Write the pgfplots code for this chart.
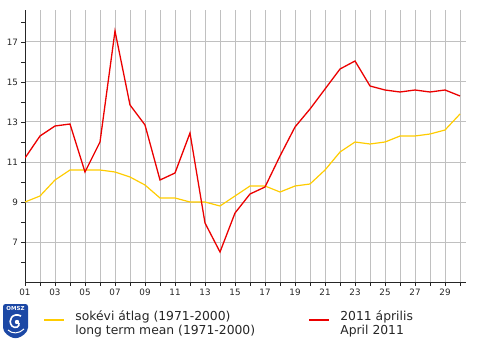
\documentclass[border=0pt]{standalone}
\usepackage{fontspec}
\setmainfont{DejaVu Sans}
\usepackage{pgfplots}
\pgfplotsset{compat=1.18}
\definecolor{ylw}{RGB}{255,204,0}
\definecolor{rd}{RGB}{235,0,0}
\definecolor{grd}{RGB}{192,192,192}
\definecolor{omszblue}{RGB}{28,72,165}
\begin{document}
\begin{tikzpicture}[x=1bp,y=1bp]
\useasboundingbox (0,0) rectangle (490,342);
\begin{axis}[
  at={(25bp,60bp)}, anchor=south west,
  scale only axis, width=441bp, height=272bp,
  xmin=1, xmax=30.4, ymin=5, ymax=18.6,
  axis x line*=bottom, axis y line*=left,
  axis line style={-, black!85, line width=0.9bp},
  xtick={1,...,30},
  xticklabels={01,,03,,05,,07,,09,,11,,13,,15,,17,,19,,21,,23,,25,,27,,29,},
  ytick={7,9,11,13,15,17},
  minor ytick={6,8,10,12,14,16,18},
  xmajorgrids=true, ymajorgrids=true,
  grid style={grd, line width=1bp},
  tick align=outside, major tick length=3.5bp, minor tick length=3.5bp,
  tick style={black!85, line width=0.9bp},
  every tick/.style={black!85, line width=0.9bp},
  ticklabel style={font=\fontsize{8.8}{10}\selectfont, text=black!85},
  /pgf/number format/assume math mode=true,
  yticklabel style={/pgf/number format/fixed},
  legend columns=2,
  legend cell align=left,
  legend image code/.code={\draw[#1, line width=2.2bp] (0bp,0bp) -- (20bp,0bp);},
  legend style={at={(0.0408,-0.1397)}, anchor=west, draw=none, fill=none,
    inner sep=0pt, font=\fontsize{12.4}{14.3}\selectfont, text=black!85,
    /tikz/every odd column/.append style={column sep=8bp},
    /tikz/every even column/.append style={column sep=51bp}},
]
\addplot[ylw, line width=1.2bp] coordinates {
(1,9.0) (2,9.3) (3,10.1) (4,10.6) (5,10.6) (6,10.6) (7,10.5) (8,10.25) (9,9.85) (10,9.2)
(11,9.2) (12,9.0) (13,9.0) (14,8.8) (15,9.3) (16,9.8) (17,9.8) (18,9.5) (19,9.8) (20,9.9)
(21,10.6) (22,11.5) (23,12.0) (24,11.9) (25,12.0) (26,12.3) (27,12.3) (28,12.4) (29,12.6) (30,13.4)
};
\addlegendentry{\begin{tabular}{@{}l@{}}sokévi átlag (1971-2000)\\long term mean (1971-2000)\end{tabular}}
\addplot[rd, line width=1.3bp] coordinates {
(1,11.2) (2,12.3) (3,12.8) (4,12.9) (5,10.5) (6,12.0) (7,17.55) (8,13.85) (9,12.85) (10,10.1)
(11,10.45) (12,12.45) (13,7.95) (14,6.5) (15,8.45) (16,9.4) (17,9.75) (18,11.3) (19,12.75) (20,13.65)
(21,14.65) (22,15.65) (23,16.05) (24,14.8) (25,14.6) (26,14.5) (27,14.6) (28,14.5) (29,14.6) (30,14.3)
};
\addlegendentry{\begin{tabular}{@{}l@{}}2011 április\\April 2011\end{tabular}}
\end{axis}
% OMSZ logo
\fill[omszblue, rounded corners=2.5bp] (3,38) -- (28,38) -- (28,17) .. controls (28,9) and (21,5) .. (15.5,3.5) .. controls (10,5) and (3,9) .. (3,17) -- cycle;
\node[text=white, font=\bfseries\fontsize{5.5}{6}\selectfont, inner sep=0pt] at (15.5,33.5) {OMSZ};
\draw[white, line width=1.6bp] (21,26) .. controls (13,30) and (7,22) .. (12,16) .. controls (15,13) and (20,15) .. (19,19);
\fill[white] (17,20) circle (2.2bp);
\draw[white, line width=1bp] (8,12) .. controls (12,8) and (19,8) .. (24,13);
\end{tikzpicture}
\end{document}
